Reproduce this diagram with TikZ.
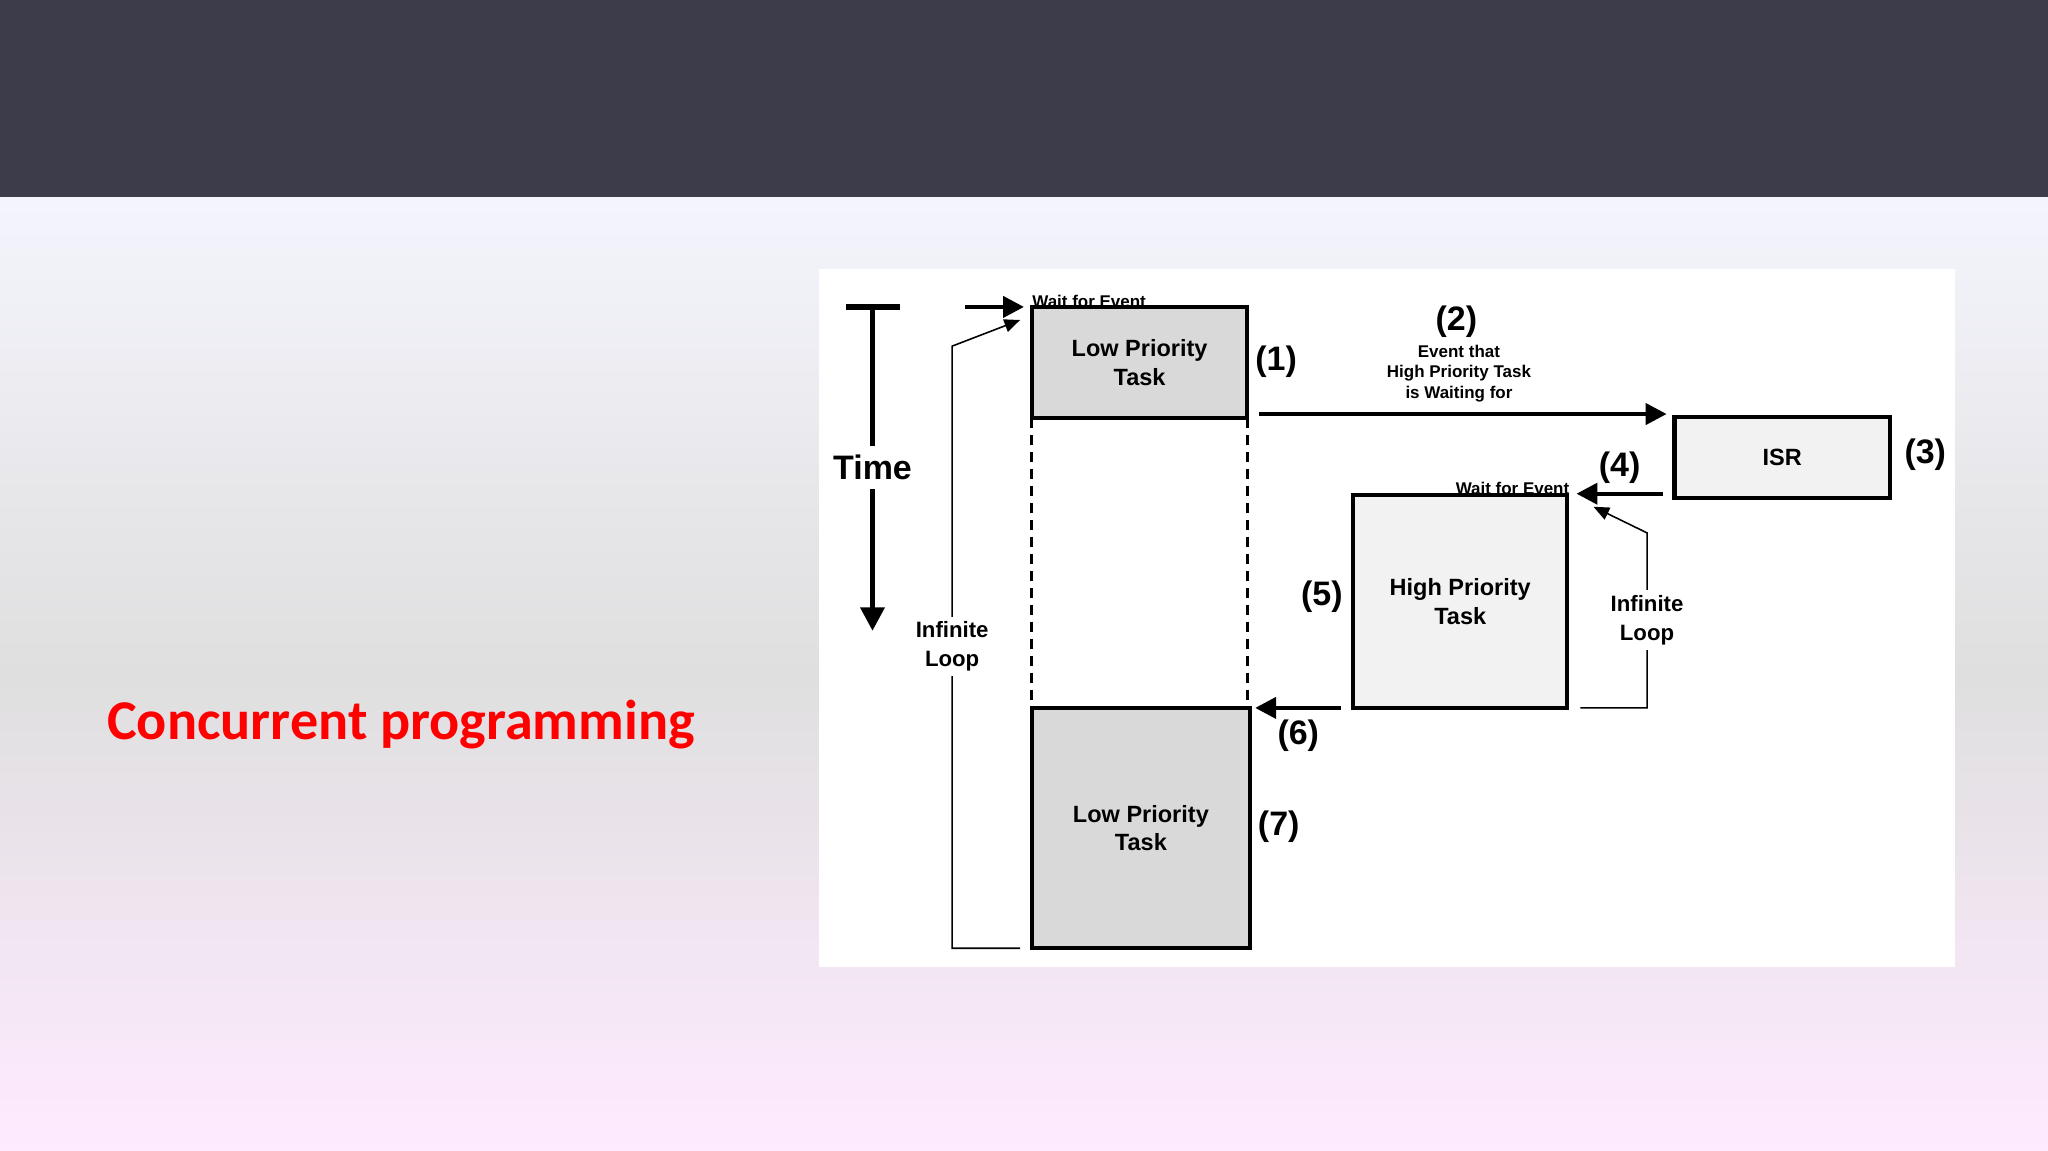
\documentclass[tikz,border=0pt]{standalone}
\usepackage{fontspec}
\setmainfont{Liberation Sans}
\newfontfamily\calib{Carlito}
\usetikzlibrary{arrows.meta}
\definecolor{topbar}{HTML}{3D3C4A}
\definecolor{lowfill}{HTML}{D9D9D9}
\definecolor{hifill}{HTML}{F2F2F2}
\tikzset{
  box/.style={draw=black,line width=1.6pt,inner sep=0pt,align=center,font=\bfseries\fontsize{9}{11}\selectfont},
  lbl/.style={font=\bfseries\fontsize{13}{15}\selectfont,inner sep=0pt},
  small/.style={font=\bfseries\fontsize{6.5}{8}\selectfont,align=center,inner sep=0pt},
  arr/.style={line width=1.6pt,-{Triangle[length=8pt,width=8pt]}},
  thin/.style={line width=0.6pt,-{Triangle[length=6pt,width=5pt]}},
}
\begin{document}
\begin{tikzpicture}[x=0.5pt,y=-0.5pt]
\useasboundingbox (0,0) rectangle (1568,881);
\shade[top color=gray!30!blue!5!white, bottom color=magenta!8!white, middle color=gray!25] (0,151) rectangle (1568,881);
\fill[topbar] (0,0) rectangle (1568,151);
\fill[white] (627,206) rectangle (1497,740);
\node[text=red,font=\calib\bfseries\fontsize{21.5}{25}\selectfont] (title) at (307,555) {Concurrent programming};
% time
\coordinate (tl) at (648,235); \coordinate (tr) at (689,235);
\draw[line width=2pt] (tl) -- (tr);
\node[font=\bfseries\fontsize{13}{15}\selectfont] (time) at (668,358) {Time};
\draw[line width=2pt] (668,235) -- (time.north);
\coordinate (tend) at (668,483);
\draw[line width=2pt,-{Triangle[length=9pt,width=9pt]}] (time.south) -- (tend);
% loops (lines first)
\coordinate (l1) at (781,726); \coordinate (l2) at (729,726); \coordinate (l3) at (729,265); \coordinate (l4) at (781,245);
\draw[thin] (l1) -- (l2) -- (l3) -- (l4);
\coordinate (r1) at (1210,542); \coordinate (r2) at (1261,542); \coordinate (r3) at (1261,408); \coordinate (r4) at (1220,388);
\draw[thin] (r1) -- (r2) -- (r3) -- (r4);
\node[small,font=\bfseries\fontsize{8.5}{11}\selectfont,fill=white,inner sep=2pt] (loopL) at (729,495) {Infinite\\Loop};
\node[small,font=\bfseries\fontsize{8.5}{11}\selectfont,fill=white,inner sep=2pt] (loopR) at (1261,475) {Infinite\\Loop};
% boxes
\node[box,fill=lowfill,minimum width=82.5pt,minimum height=42.5pt] (low1) at (872.5,277.5) {Low Priority\\Task};
\node[box,fill=lowfill,minimum width=83.5pt,minimum height=92pt] (low2) at (873.5,634) {Low Priority\\Task};
\node[box,fill=hifill,minimum width=82pt,minimum height=81.5pt] (hi) at (1118,460.5) {High Priority\\Task};
\node[box,fill=hifill,minimum width=82.5pt,minimum height=31pt] (isr) at (1364.5,350) {ISR};
\draw[line width=1.2pt,dash pattern=on 4pt off 2.5pt] (790,320) -- (790,542);
\draw[line width=1.2pt,dash pattern=on 4pt off 2.5pt] (955,320) -- (955,542);
% wait for event top
\coordinate (w1) at (739,235); \coordinate (w1e) at (784,235);
\draw[arr] (w1) -- (w1e);
\node[small,anchor=south west] (wfe1) at (790,236) {Wait for Event};
% labels
\node[lbl] (n1) at (977,277) {(1)};
\node[lbl] (n2) at (1115,246) {(2)};
\node[small] (ev) at (1117,286) {Event that\\High Priority Task\\is Waiting for};
\coordinate (a2s) at (964,317); \coordinate (a2e) at (1276,317);
\draw[arr] (a2s) -- (a2e);
\node[lbl] (n3) at (1474,348) {(3)};
\node[lbl] (n4) at (1240,358) {(4)};
\coordinate (a4s) at (1273,378); \coordinate (a4e) at (1207,378);
\draw[arr] (a4s) -- (a4e);
\node[small,anchor=south] (wfe2) at (1158,379) {Wait for Event};
\node[lbl] (n5) at (1012,457) {(5)};
% (6)
\coordinate (a6s) at (1027,542); \coordinate (a6e) at (961,542);
\draw[arr] (a6s) -- (a6e);
\node[lbl] (n6) at (994,563) {(6)};
\node[lbl] (n7) at (979,633) {(7)};
\end{tikzpicture}
\end{document}
